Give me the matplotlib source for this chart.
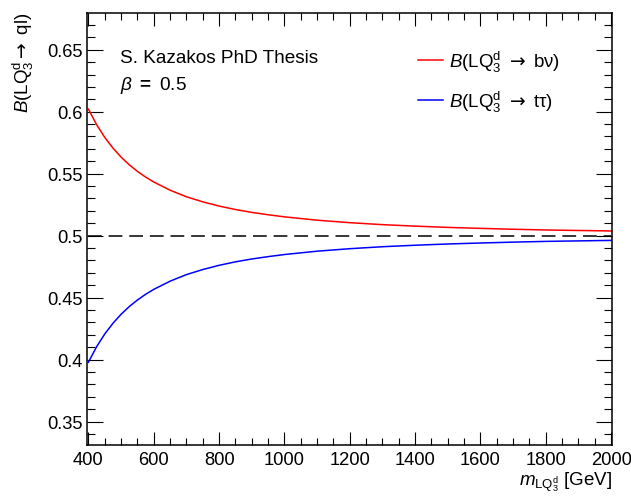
import numpy as np
import matplotlib
matplotlib.use('Agg')
import matplotlib.pyplot as plt
from matplotlib.ticker import MultipleLocator

plt.rcParams['font.family'] = ['Liberation Sans', 'DejaVu Sans']
plt.rcParams['mathtext.fontset'] = 'custom'
plt.rcParams['mathtext.rm'] = 'Liberation Sans'
plt.rcParams['mathtext.it'] = 'Liberation Sans:italic'
plt.rcParams['mathtext.bf'] = 'Liberation Sans:bold'
plt.rcParams['mathtext.sf'] = 'DejaVu Sans'

# leptoquark mass points (GeV) and branching fractions
mass = [400, 425, 450, 475, 500, 525, 550, 575, 600, 650, 700, 750, 800, 850,
        900, 950, 1000, 1100, 1200, 1300, 1400, 1500, 1600, 1700, 1800, 1900, 2000]
br_ttau = [0.3979, 0.4104, 0.4207, 0.4293, 0.4366, 0.4428, 0.4481, 0.4527,
           0.4567, 0.4633, 0.4686, 0.4727, 0.4761, 0.4789, 0.4812, 0.4831,
           0.4848, 0.4875, 0.4895, 0.4911, 0.4923, 0.4933, 0.4941, 0.4948,
           0.4954, 0.4958, 0.4962]
br_bnu = [0.6021, 0.5896, 0.5793, 0.5707, 0.5634, 0.5572, 0.5519, 0.5473,
          0.5433, 0.5367, 0.5314, 0.5273, 0.5239, 0.5211, 0.5188, 0.5169,
          0.5152, 0.5125, 0.5105, 0.5089, 0.5077, 0.5067, 0.5059, 0.5052,
          0.5046, 0.5042, 0.5038]
beta = 0.5

arrow = r'$\mathsf{\rightarrow}$'

fig = plt.figure(figsize=(6.31, 5.02), dpi=100)
ax = fig.add_axes([0.1375, 0.1116, 0.8325, 0.8605])

ax.plot(mass, br_bnu, c='#ff0000', lw=1.1, label=r'$B$(LQ$_{3}^{\mathrm{d}}$ ' + arrow + r' b$\mathrm{\nu}$)')
ax.plot(mass, br_ttau, c='#0000ff', lw=1.1, label=r'$B$(LQ$_{3}^{\mathrm{d}}$ ' + arrow + r' t$\mathrm{\tau}$)')
ax.hlines(beta, mass[0], mass[-1], colors='k', lw=1.1, linestyles=(0, (9, 4.5)))

ax.set_xlim(395, 2003)
ax.set_ylim(0.3312, 0.6796)

ax.xaxis.set_major_locator(MultipleLocator(200))
ax.xaxis.set_minor_locator(MultipleLocator(50))
ax.yaxis.set_major_locator(MultipleLocator(0.05))
ax.yaxis.set_minor_locator(MultipleLocator(0.01))
ax.yaxis.set_major_formatter(plt.FuncFormatter(lambda v, p: ('%.2f' % v).rstrip('0')))

ax.tick_params(which='both', direction='in', top=True, right=True, width=0.8, labelsize=13.2)
ax.tick_params(axis='x', which='major', length=9.4, pad=4)
ax.tick_params(axis='x', which='minor', length=4.7)
ax.tick_params(axis='y', which='major', length=11.3, pad=3)
ax.tick_params(axis='y', which='minor', length=5.6)
for s in ax.spines.values():
    s.set_linewidth(1.1)

ax.set_xlabel(r'$m_{\mathrm{LQ}_{3}^{\mathrm{d}}}$ [GeV]', loc='right', fontsize=13.5)
ax.set_ylabel(r'$B$(LQ$_{3}^{\mathrm{d}}$' + arrow + ' ql)', loc='top', fontsize=13.5)
ax.xaxis.label.set_va('baseline')
ax.xaxis.set_label_coords(1.0, -0.0926)
ax.yaxis.set_label_coords(-0.097, 1.003)

ax.text(0.063, 0.887, 'S. Kazakos PhD Thesis', transform=ax.transAxes, fontsize=13.7)
ax.text(0.063, 0.824, r'$\beta$ $\mathbf{=}$ 0.5', transform=ax.transAxes, fontsize=13.7)

ax.legend(loc='upper left', bbox_to_anchor=(0.631, 0.918), frameon=False, fontsize=13.5,
          borderpad=0, borderaxespad=0,
          handlelength=1.33, handletextpad=0.32, labelspacing=0.8)

fig.savefig('out.png', dpi=100)
